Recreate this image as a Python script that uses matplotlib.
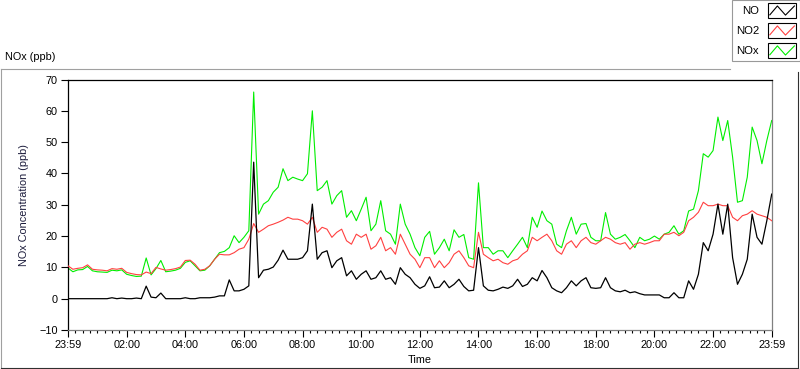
#! /usr/bin/env python3
# -*- coding:utf-8 -*-

import numpy as np
import matplotlib
matplotlib.use('Agg')
import matplotlib.pyplot as plt
from matplotlib.lines import Line2D
from matplotlib.patches import Rectangle
from matplotlib.legend_handler import HandlerBase

plt.rcParams['font.family'] = ['Liberation Sans', 'DejaVu Sans']

# one sample every 10 minutes, from 23:59 to 23:59 next day
step_min = 10

no = [0, 0, 0, 0, 0, 0, 0, 0, 0, 0.3, 0, 0.2, 0, 0, 0.2, 0, 4.0, 0.5, 0.3, 1.8, 0, 0, 0, 0, 0.3,
      0, 0, 0.3, 0.3, 0.3, 0.5, 0.9, 0.9, 6.0, 2.5, 2.5, 3.0, 4.1, 43.6, 6.7, 9.1, 9.4, 10.1, 12.3, 15.5, 12.6, 12.6, 12.6, 13.1,
      15.3, 30.2, 12.6, 14.7, 15.3, 9.9, 12.1, 13.1, 7.3, 8.9, 6.2, 7.8, 8.9, 6.2, 6.7, 8.9, 6.2, 6.7, 4.6, 9.9, 7.8, 6.7, 4.6, 3.3,
      4.1, 7.0, 3.5, 3.7, 5.7, 3.5, 4.6, 6.2, 3.9, 2.5, 2.7, 16.3, 4.1, 2.7, 2.5, 3.0, 3.7, 3.3, 4.1, 6.2, 3.9, 4.6, 6.7, 5.7,
      9.0, 6.7, 3.5, 2.5, 1.9, 3.5, 5.7, 4.1, 5.7, 6.7, 3.5, 3.3, 3.5, 6.7, 3.5, 2.5, 2.2, 2.7, 1.9, 2.2, 1.6, 1.2, 1.2, 1.2,
      1.2, 0.3, 0.3, 1.9, 0.3, 0.3, 5.7, 3.0, 7.8, 17.9, 15.3, 20.6, 30.2, 20.6, 30.2, 13.1, 4.6, 7.8, 12.6, 27.0, 19.6, 17.4, 24.9, 33.4]

no2 = [10.5, 9.4, 9.7, 9.9, 10.8, 9.4, 9.2, 9.1, 8.9, 9.6, 9.4, 9.7, 8.4, 8.0, 7.7, 7.6, 8.5, 8.0, 10.0, 9.5, 9.1, 9.3, 9.6, 10.1, 12.2,
       12.3, 11.0, 9.1, 9.4, 10.5, 12.6, 14.2, 14.0, 14.0, 14.7, 15.8, 16.3, 19.0, 24.0, 21.2, 22.2, 23.3, 23.8, 24.4, 25.1, 26.0, 25.4, 25.4, 24.9,
       23.8, 26.0, 21.2, 22.8, 22.2, 19.6, 21.2, 22.2, 18.5, 17.4, 20.6, 19.6, 20.6, 15.8, 16.9, 19.6, 15.3, 16.3, 14.2, 20.6, 17.4, 14.2, 12.6, 9.9,
       13.1, 13.1, 9.9, 12.1, 9.9, 11.5, 14.2, 15.3, 13.1, 10.5, 9.9, 21.2, 14.2, 13.1, 12.1, 12.6, 11.5, 11.0, 12.1, 12.6, 14.2, 15.3, 19.6, 18.5,
       19.6, 20.6, 18.5, 15.3, 14.2, 17.4, 18.5, 16.3, 18.5, 19.6, 17.9, 17.4, 18.5, 19.6, 19.0, 17.9, 17.4, 17.9, 15.8, 17.4, 17.9, 17.4, 17.9, 18.5,
       18.5, 20.6, 20.6, 21.2, 20.1, 21.2, 24.9, 26.0, 27.6, 30.8, 29.7, 29.7, 30.2, 29.7, 29.7, 26.0, 24.9, 26.5, 27.0, 28.1, 27.0, 26.5, 26.0, 24.9]

nox = [9.8, 8.6, 9.2, 9.3, 10.3, 8.9, 8.6, 8.5, 8.4, 9.1, 8.9, 9.2, 7.8, 7.4, 7.1, 7.2, 13.0, 7.6, 9.6, 12.2, 8.6, 8.8, 9.1, 9.7, 11.6,
       12.1, 10.5, 8.9, 9.1, 10.5, 12.6, 14.7, 15.1, 16.3, 20.1, 17.9, 19.6, 21.7, 66.0, 27.0, 30.2, 31.3, 34.0, 35.6, 41.5, 37.7, 38.8, 38.2, 37.7,
       39.9, 60.0, 34.5, 35.6, 37.7, 30.2, 32.9, 34.5, 26.0, 28.1, 24.9, 28.6, 32.4, 21.7, 23.8, 31.3, 21.7, 20.6, 17.4, 30.2, 23.8, 20.6, 16.3, 13.7,
       19.6, 21.5, 14.2, 16.3, 19.0, 15.3, 22.0, 19.6, 20.5, 13.1, 12.6, 37.0, 16.3, 16.3, 14.2, 15.3, 15.3, 13.1, 15.3, 17.4, 19.6, 16.3, 26.0, 22.8,
       28.0, 24.9, 23.8, 17.4, 16.3, 21.7, 26.0, 20.6, 23.8, 24.0, 19.6, 18.5, 18.5, 27.5, 20.6, 19.0, 19.6, 20.5, 18.5, 16.3, 19.6, 18.5, 19.0, 20.0,
       19.0, 20.6, 21.2, 23.3, 20.6, 21.7, 28.0, 28.6, 34.5, 46.3, 45.2, 47.3, 58.0, 50.5, 56.9, 45.2, 30.8, 31.3, 38.8, 54.8, 50.5, 43.1, 50.5, 56.9]

tick_labels = ['23:59', '02:00', '04:00', '06:00', '08:00', '10:00', '12:00',
               '14:00', '16:00', '18:00', '20:00', '22:00', '23:59']
tick_minutes = [0, 120, 240, 360, 480, 600, 720, 840, 960, 1080, 1200, 1320, 1440]


class ZigZagHandler(HandlerBase):
    # little boxed zigzag like the LabVIEW plot legend
    def create_artists(self, legend, orig_handle, xdescent, ydescent,
                       width, height, fontsize, trans):
        box = Rectangle((-xdescent, -ydescent), width, height, facecolor='white',
                        edgecolor='black', lw=0.8, transform=trans)
        xs = -xdescent + width * np.array([0.06, 0.33, 0.62, 0.94])
        ys = -ydescent + height * np.array([0.2, 0.82, 0.18, 0.82])
        ln = Line2D(xs, ys, color=orig_handle.get_color(), lw=0.8, transform=trans)
        return [box, ln]


fig = plt.figure(figsize=(8, 3.69), dpi=100)
W, H = 800.0, 369.0
ax = fig.add_axes([68 / W, (H - 330) / H, (771.7 - 68) / W, (330 - 79.5) / H])

t = np.arange(len(no)) * step_min
l_nox, = ax.plot(t, nox, color='#00ee00', lw=0.8, label='NOx', zorder=2)
l_no2, = ax.plot(t, no2, color='#ff4040', lw=0.8, label='NO2', zorder=3)
l_no, = ax.plot(t, no, color='black', lw=0.9, label='NO', zorder=4)

ax.set_xlim(0, 1440)
ax.set_ylim(-10, 70)
ax.set_yticks(range(-10, 71, 10))
ax.set_xticks(tick_minutes)
ax.set_xticklabels(tick_labels)
ax.set_xticks(np.arange(0, 1441, 15), minor=True)
ax.tick_params(axis='both', labelsize=7.8, length=5, width=0.8, pad=2.5, color='black')
ax.tick_params(axis='x', which='minor', length=2.5, width=0.8)

for side in ['left', 'top']:
    ax.spines[side].set_color('black')
    ax.spines[side].set_linewidth(0.9)
for side in ['right', 'bottom']:
    ax.spines[side].set_color('#808080')
    ax.spines[side].set_linewidth(0.9)

ax.set_xlabel('Time', fontsize=7.8, labelpad=3)
ax.set_ylabel('NOx Concentration (ppb)', fontsize=7.8, labelpad=7, color='#1a1a3a')

fig.text(5 / W, 1 - 57 / H, 'NOx (ppb)', fontsize=7.8, va='center', ha='left')

# outer frame of the graph panel
fig.add_artist(Line2D([0.7 / W, 730 / W], [1 - 68.5 / H, 1 - 68.5 / H], color='#a0a0a0', lw=0.8))
fig.add_artist(Line2D([0.7 / W, 0.7 / W], [1 - 68.5 / H, 1 - 367.5 / H], color='#a0a0a0', lw=0.8))
fig.add_artist(Line2D([0.7 / W, 797.5 / W], [1 - 367.5 / H, 1 - 367.5 / H], color='#303030', lw=0.8))
fig.add_artist(Line2D([797.5 / W, 797.5 / W], [1 - 72 / H, 1 - 367.5 / H], color='#303030', lw=0.8))

leg = fig.legend(handles=[l_no, l_no2, l_nox], labels=['NO', 'NO2', 'NOx'],
                 loc='upper right', bbox_to_anchor=(799.5 / W, 1.0),
                 handler_map={Line2D: ZigZagHandler()},
                 markerfirst=False, fontsize=8.2, frameon=True, fancybox=False,
                 handlelength=2.45, handleheight=1.55, labelspacing=0.5,
                 handletextpad=0.8, borderpad=0.3, borderaxespad=0)
leg.get_frame().set_edgecolor('#808080')
leg.get_frame().set_linewidth(0.8)

plt.savefig('out.png', dpi=100)
